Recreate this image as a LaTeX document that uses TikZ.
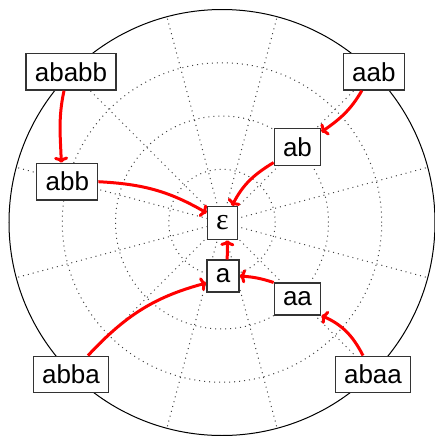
\documentclass[tikz,border=0pt]{standalone}
\usepackage{fontspec}
\setmainfont{Liberation Sans}
\newfontfamily\epsfont{Liberation Serif}
\usetikzlibrary{arrows.meta}
\begin{document}
\begin{tikzpicture}[x=0.5pt,y=0.5pt,
  word/.style={draw=black!80, line width=0.6pt, fill=white, inner sep=4.4pt,
    font=\fontsize{13}{15.6}\selectfont},
  link/.style={draw=red, line width=1.5pt, -{To[length=3pt,width=7pt]}},
  gridline/.style={dotted, line width=0.5pt, black!75}]
\useasboundingbox (0,0) rectangle (435,-436);
\coordinate (O) at (222,-222.5);
\foreach \r in {53.25,106.5,159.75} \draw[gridline] (O) circle[radius=\r];
\foreach \t in {15,45,...,345} \draw[gridline] (O) -- ++(\t:213);
\draw[line width=0.5pt] (O) circle[radius=213];

\node[word] (ababb) at (71,-71.7) {ababb};
\node[word] (aab) at (373.8,-71.7) {aab};
\node[word] (abb) at (67.3,-181.7) {abb};
\node[word] (ab) at (297.5,-147) {ab};
\node[word, minimum width=15pt, minimum height=16.5pt] (eps) at (222.5,-223)
  {\epsfont\fontsize{15}{18}\selectfont ε};
\node[word] (a) at (223,-276) {a};
\node[word] (aa) at (297.5,-299) {aa};
\node[word] (abba) at (71,-374.5) {abba};
\node[word] (abaa) at (373,-374.5) {abaa};

\draw[link] ([xshift=-3.5pt]ababb.south) to[out=-102,in=92] ([xshift=-3pt]abb.north);
\draw[link] (abb.east) to[out=-3,in=150] ([yshift=5pt]eps.west);
\draw[link] ([xshift=-6pt]aab.south) to[out=-120,in=35] ([yshift=-2pt]ab.north east);
\draw[link] ([yshift=1.7pt]ab.south west) to[out=211,in=63] ([xshift=4.75pt]eps.north);
\draw[link] ([xshift=2pt]a.north) to[out=85,in=-92] ([xshift=2.5pt]eps.south);
\draw[link] (aa.north west) to[out=162,in=-4] (a.east);
\draw[link] ([xshift=8.5pt]abba.north) to[out=47,in=-165] ([yshift=-3.5pt]a.west);
\draw[link] ([xshift=-5pt]abaa.north) to[out=117,in=-24] (aa.south east);
\end{tikzpicture}
\end{document}
